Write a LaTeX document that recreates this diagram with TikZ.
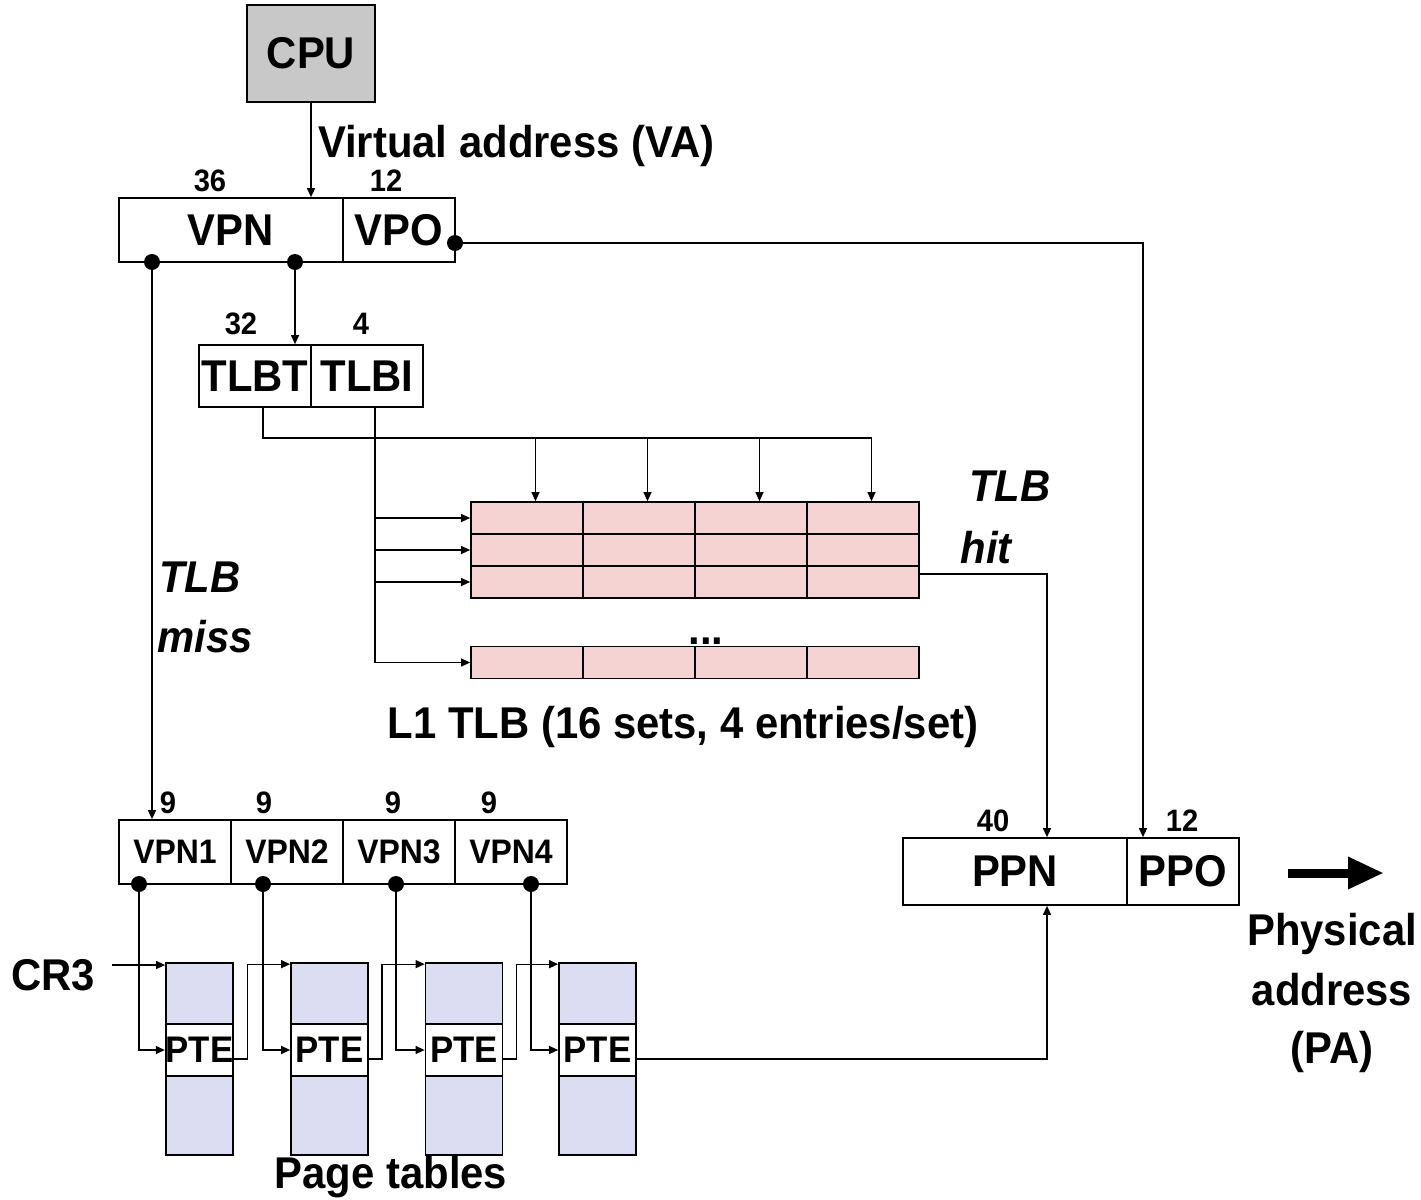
\documentclass[tikz,border=0pt]{standalone}
\usepackage{fontspec}
\setmainfont{Liberation Sans}[FakeStretch=0.94]
\usetikzlibrary{arrows.meta,calc}
\definecolor{cpugray}{HTML}{C8C8C8}
\definecolor{tlbpink}{HTML}{F5D3D3}
\definecolor{ptblue}{HTML}{DCDCF2}
\begin{document}
\begin{tikzpicture}[x=1pt,y=-1pt,
  box/.style={draw, line width=1.7pt, inner sep=0pt, font=\fontsize{44.5}{50}\selectfont\bfseries},
  vbox/.style={draw, line width=1.7pt, inner sep=0pt, minimum width=112pt, minimum height=64pt, font=\fontsize{34}{40}\selectfont\bfseries},
  lbl/.style={inner sep=0pt, font=\fontsize{44.5}{50}\selectfont\bfseries},
  ilbl/.style={inner sep=0pt, font=\fontsize{44.5}{50}\selectfont\bfseries\itshape},
  num/.style={inner sep=0pt, font=\fontsize{31}{36}\selectfont\bfseries},
  cell/.style={draw, line width=1.7pt, fill=tlbpink, minimum width=112pt, minimum height=32pt, inner sep=0pt},
  ptc/.style={draw, line width=1.7pt, fill=ptblue, inner sep=0pt},
  conn/.style={line width=1.3pt},
  arr/.style={conn, -{Triangle[length=9pt,width=8pt]}}
]
\useasboundingbox (0,0) rectangle (1421,1199);

% main boxes
\node[box, fill=cpugray, minimum width=128pt, minimum height=97pt] (cpu) at (311,53.5) {CPU};
\node[box, minimum width=224pt, minimum height=64pt] (vpn) at (231,230) {VPN};
\node[box, minimum width=112pt, minimum height=64pt] (vpo) at (399,230) {VPO};
\node[box, minimum width=112pt, minimum height=62pt] (tlbt) at (255,376) {TLBT};
\node[box, minimum width=112pt, minimum height=62pt] (tlbi) at (367,376) {TLBI};
\node[vbox] (v1) at (175,852) {VPN1};
\node[vbox] (v2) at (287,852) {VPN2};
\node[vbox] (v3) at (399,852) {VPN3};
\node[vbox] (v4) at (511,852) {VPN4};
\node[box, minimum width=224pt, minimum height=67pt] (ppn) at (1015,871.5) {PPN};
\node[box, minimum width=112pt, minimum height=67pt] (ppo) at (1183,871.5) {PPO};

% TLB cells
\foreach \r/\y in {1/518,2/550,3/582,4/662.5}
  \foreach \c/\x in {1/527,2/639,3/751,4/863}
    \node[cell] (c\r\c) at (\x,\y) {};

% page tables
\foreach \i/\x/\w in {1/199.5/67,2/329.5/77,3/464/77,4/597.5/77}{
  \node[ptc, minimum width={\w pt}, minimum height=61pt] (top\i) at (\x,993.5) {};
  \node[ptc, fill=white, minimum width={\w pt}, minimum height=52pt, font=\fontsize{37}{42}\selectfont\bfseries] (pte\i) at (\x,1050) {PTE};
  \node[ptc, minimum width={\w pt}, minimum height=79pt] (bot\i) at (\x,1115.5) {};
}

% coordinates
\coordinate (d1) at (152,262);
\coordinate (d2) at (295,262);
\coordinate (d3) at (455,243);
\coordinate (e1) at (139,884);
\coordinate (e2) at (263,884);
\coordinate (e3) at (396,884);
\coordinate (e4) at (531,884);
\coordinate (tt) at (263,407);
\coordinate (ti) at (375,407);
\coordinate (busy) at (0,438);
\coordinate (cr3out) at (112,965);
\coordinate (pa1) at (1288,873);
\coordinate (pa2) at (1384,873);

% connectors
\draw[arr] (cpu.south) -- (cpu.south |- vpn.north);
\draw[arr] (d1) -- (d1 |- v1.north);
\draw[arr] (d2) -- (d2 |- tlbt.north);
\draw[arr] (d3) -| ([xshift=-40pt]ppo.north);
\draw[conn] (tt) |- ([xshift=8.5pt]c14.north |- busy);
\foreach \c in {1,...,4}
  \draw[arr] ([xshift=8.5pt]c1\c.north |- busy) -- ([xshift=8.5pt]c1\c.north);
\draw[conn] (ti) -- (ti |- c41.west);
\foreach \r in {1,...,4}
  \draw[arr] (ti |- c\r1.west) -- (c\r1.west);
\draw[arr] ([yshift=8pt]c34.east) -| ([xshift=32pt]ppn.north);
\draw[arr] ([yshift=-9pt]pte4.east) -| ([xshift=32pt]ppn.south);

\draw[arr] (cr3out) -- (cr3out -| top1.west);
\draw[arr] (e1) |- (pte1.west);
\draw[arr] (e2) |- (pte2.west);
\draw[arr] (e3) |- (pte3.west);
\draw[arr] (e4) |- (pte4.west);
\draw[arr] ([yshift=-9pt]pte1.east) -- ++(13,0) |- ([yshift=-2pt]top2.north west);
\draw[arr] ([yshift=-9pt]pte2.east) -- ++(13,0) |- ([yshift=-2pt]top3.north west);
\draw[arr] ([yshift=-9pt]pte3.east) -- ++(13,0) |- ([yshift=-2pt]top4.north west);

\foreach \p in {d1,d2,d3,e1,e2,e3,e4}
  \fill (\p) circle[radius=8pt];

\draw[line width=9pt, -{Triangle[length=36pt,width=30pt]}] (pa1) -- (pa2);

% labels
\node[lbl, anchor=base west] (va) at (318,157) {Virtual address (VA)};
\node[num, anchor=base] (n36) at (210,191) {36};
\node[num, anchor=base] (n12a) at (386,191) {12};
\node[num, anchor=base] (n32) at (241,334) {32};
\node[num, anchor=base] (n4) at (361,334) {4};
\node[ilbl, anchor=base] (hit1) at (1010,501) {TLB};
\node[ilbl, anchor=base] (hit2) at (986,563) {hit};
\node[ilbl, anchor=base] (miss1) at (200,592) {TLB};
\node[ilbl, anchor=base] (miss2) at (205,652) {miss};
\node[lbl, anchor=base] (dots) at (706,644) {...};
\node[lbl, anchor=base] (l1) at (683,738) {L1 TLB (16 sets, 4 entries/set)};
\node[num, anchor=base] (n9a) at (168,813) {9};
\node[num, anchor=base] (n9b) at (264,813) {9};
\node[num, anchor=base] (n9c) at (393,813) {9};
\node[num, anchor=base] (n9d) at (489,813) {9};
\node[num, anchor=base] (n40) at (993,831) {40};
\node[num, anchor=base] (n12b) at (1182,831) {12};
\node[lbl, anchor=base] (ph1) at (1332,945) {Physical};
\node[lbl, anchor=base] (ph2) at (1332,1005) {address};
\node[lbl, anchor=base] (ph3) at (1332,1063) {(PA)};
\node[lbl, anchor=base] (cr3) at (53,990) {CR3};
\node[lbl, anchor=base] (pt) at (391,1188) {Page tables};
\end{tikzpicture}
\end{document}
